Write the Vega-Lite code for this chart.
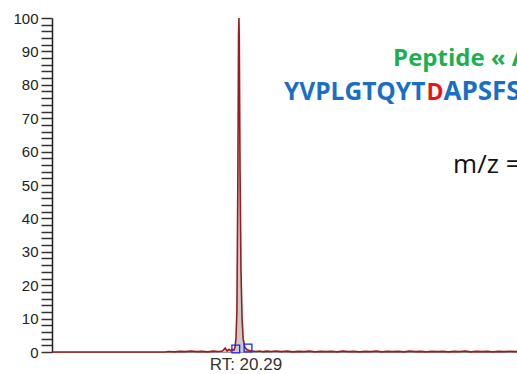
{
  "$schema": "https://vega.github.io/schema/vega-lite/v6.json",
  "autosize": "none",
  "width": 465,
  "height": 334,
  "padding": {"left": 52, "top": 18, "right": 0, "bottom": 22},
  "background": "white",
  "view": {"stroke": null},
  "datasets": {
    "trace": [
      {"rt": 10.2, "intensity": 0}, {"rt": 12, "intensity": 0}, {"rt": 14, "intensity": 0}, {"rt": 16.3, "intensity": 0},
      {"rt": 16.5, "intensity": 0.15}, {"rt": 16.8, "intensity": 0.05}, {"rt": 17.1, "intensity": 0.2}, {"rt": 17.4, "intensity": 0.1},
      {"rt": 17.7, "intensity": 0.25}, {"rt": 18.0, "intensity": 0.1}, {"rt": 18.3, "intensity": 0.2}, {"rt": 18.6, "intensity": 0.05},
      {"rt": 18.9, "intensity": 0.25}, {"rt": 19.2, "intensity": 0.15}, {"rt": 19.4, "intensity": 0.3}, {"rt": 19.55, "intensity": 1.2},
      {"rt": 19.65, "intensity": 0.3}, {"rt": 19.75, "intensity": 0.8}, {"rt": 19.85, "intensity": 0.4}, {"rt": 19.95, "intensity": 0.7},
      {"rt": 20.02, "intensity": 0.6}, {"rt": 20.08, "intensity": 1.5}, {"rt": 20.13, "intensity": 4}, {"rt": 20.18, "intensity": 12},
      {"rt": 20.23, "intensity": 50}, {"rt": 20.27, "intensity": 95}, {"rt": 20.29, "intensity": 100}, {"rt": 20.31, "intensity": 93},
      {"rt": 20.35, "intensity": 55}, {"rt": 20.40, "intensity": 25}, {"rt": 20.46, "intensity": 10}, {"rt": 20.52, "intensity": 4},
      {"rt": 20.60, "intensity": 1.5}, {"rt": 20.70, "intensity": 0.8}, {"rt": 20.85, "intensity": 0.4}, {"rt": 21.0, "intensity": 0.3},
      {"rt": 21.2, "intensity": 0.15}, {"rt": 21.4, "intensity": 0.3}, {"rt": 21.6, "intensity": 0.1}, {"rt": 21.8, "intensity": 0.25},
      {"rt": 22.0, "intensity": 0.15}, {"rt": 22.3, "intensity": 0.3}, {"rt": 22.6, "intensity": 0.1}, {"rt": 22.9, "intensity": 0.25},
      {"rt": 23.2, "intensity": 0.05}, {"rt": 23.5, "intensity": 0.2}, {"rt": 23.8, "intensity": 0.1}, {"rt": 24.1, "intensity": 0.25},
      {"rt": 24.4, "intensity": 0.05}, {"rt": 24.7, "intensity": 0.2}, {"rt": 25.0, "intensity": 0.1}, {"rt": 25.3, "intensity": 0.2},
      {"rt": 25.6, "intensity": 0.05}, {"rt": 25.9, "intensity": 0.25}, {"rt": 26.2, "intensity": 0.1}, {"rt": 26.5, "intensity": 0.2},
      {"rt": 26.8, "intensity": 0.05}, {"rt": 27.1, "intensity": 0.2}, {"rt": 27.4, "intensity": 0.1}, {"rt": 27.7, "intensity": 0.25},
      {"rt": 28.0, "intensity": 0.05}, {"rt": 28.3, "intensity": 0.2}, {"rt": 28.6, "intensity": 0.1}, {"rt": 28.9, "intensity": 0.2},
      {"rt": 29.2, "intensity": 0.05}, {"rt": 29.5, "intensity": 0.25}, {"rt": 29.8, "intensity": 0.1}, {"rt": 30.1, "intensity": 0.2},
      {"rt": 30.4, "intensity": 0.05}, {"rt": 30.7, "intensity": 0.2}, {"rt": 31.0, "intensity": 0.1}, {"rt": 31.3, "intensity": 0.2},
      {"rt": 31.6, "intensity": 0.05}, {"rt": 31.9, "intensity": 0.2}, {"rt": 32.2, "intensity": 0.1}, {"rt": 32.5, "intensity": 0.25},
      {"rt": 32.8, "intensity": 0.05}, {"rt": 33.1, "intensity": 0.2}, {"rt": 33.4, "intensity": 0.1}, {"rt": 33.7, "intensity": 0.2},
      {"rt": 34.0, "intensity": 0.05}, {"rt": 34.3, "intensity": 0.2}, {"rt": 34.6, "intensity": 0.1}, {"rt": 34.9, "intensity": 0.2},
      {"rt": 35.3, "intensity": 0.1}
    ],
    "bounds": [
      {"rt": 20.12, "intensity": 0.9},
      {"rt": 20.78, "intensity": 1.2}
    ],
    "apex": [
      {"rt": 20.29, "intensity": 0, "label": "RT: 20.29"}
    ],
    "notes": [
      {"rt": 28.61, "intensity": 85.6, "text": "Peptide « A", "piece": "title"},
      {"rt": 22.723, "intensity": 75.4, "text": "YVPLGTQYT", "piece": "seqA"},
      {"rt": 30.41, "intensity": 75.4, "text": "D", "piece": "seqD"},
      {"rt": 31.33, "intensity": 75.4, "text": "APSFS", "piece": "seqB"},
      {"rt": 31.85, "intensity": 53.6, "text": "m/z =", "piece": "mz"}
    ]
  },
  "encoding": {
    "x": {"field": "rt", "type": "quantitative", "scale": {"domain": [10.2, 35.3], "nice": false, "zero": false},
      "axis": {"title": null, "labels": false, "ticks": false, "grid": false, "domainColor": "#999999", "domainWidth": 1}},
    "y": {"field": "intensity", "type": "quantitative", "scale": {"domain": [0, 100], "nice": false},
      "axis": {"title": null, "grid": false,
        "values": [0,2,4,6,8,10,12,14,16,18,20,22,24,26,28,30,32,34,36,38,40,42,44,46,48,50,52,54,56,58,60,62,64,66,68,70,72,74,76,78,80,82,84,86,88,90,92,94,96,98,100],
        "labelExpr": "datum.value % 10 === 0 ? datum.label : ''",
        "labelFont": "Liberation Sans", "labelFontSize": 15, "labelColor": "#222222", "labelPadding": 3,
        "tickSize": 11, "tickWidth": 1.5, "tickColor": "#333333",
        "domainColor": "#222222", "domainWidth": 1.5}}
  },
  "layer": [
    {"data": {"name": "trace"}, "mark": {"type": "area", "color": "#c4c4c4", "opacity": 0.9}},
    {"data": {"name": "trace"}, "mark": {"type": "line", "color": "#9e1b1b", "strokeWidth": 1.6}},
    {"data": {"name": "bounds"}, "mark": {"type": "point", "shape": "square", "filled": false, "size": 60, "stroke": "#1f1fff", "strokeWidth": 1.3, "opacity": 1}},
    {"data": {"name": "apex"}, "mark": {"type": "text", "font": "Liberation Sans", "fontSize": 17, "color": "#333333", "align": "center", "baseline": "alphabetic", "dx": 7, "dy": 18},
      "encoding": {"text": {"field": "label"}}},
    {"data": {"name": "notes"}, "transform": [{"filter": "datum.piece === 'title'"}],
      "mark": {"type": "text", "font": "Open Sans", "fontWeight": "bold", "fontSize": 24, "color": "#1db050", "align": "left", "baseline": "alphabetic"},
      "encoding": {"text": {"field": "text"}}},
    {"data": {"name": "notes"}, "transform": [{"filter": "datum.piece === 'seqA'"}],
      "mark": {"type": "text", "font": "Open Sans", "fontWeight": "bold", "fontSize": 24.5, "color": "#1a6fc4", "align": "left", "baseline": "alphabetic"},
      "encoding": {"text": {"field": "text"}}},
    {"data": {"name": "notes"}, "transform": [{"filter": "datum.piece === 'seqD'"}],
      "mark": {"type": "text", "font": "Open Sans", "fontWeight": "bold", "fontSize": 23, "color": "#e8141c", "align": "left", "baseline": "alphabetic"},
      "encoding": {"text": {"field": "text"}}},
    {"data": {"name": "notes"}, "transform": [{"filter": "datum.piece === 'seqB'"}],
      "mark": {"type": "text", "font": "Open Sans", "fontWeight": "bold", "fontSize": 26, "color": "#1a6fc4", "align": "left", "baseline": "alphabetic"},
      "encoding": {"text": {"field": "text"}}},
    {"data": {"name": "notes"}, "transform": [{"filter": "datum.piece === 'mz'"}],
      "mark": {"type": "text", "font": "Open Sans", "fontSize": 26, "color": "#111111", "align": "left", "baseline": "alphabetic"},
      "encoding": {"text": {"field": "text"}}}
  ]
}
